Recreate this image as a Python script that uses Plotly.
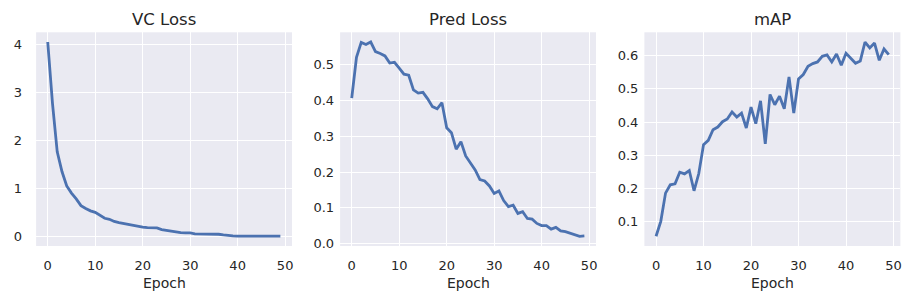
import plotly.graph_objects as go

epochs = list(range(50))

vc_loss = [4.05, 2.77, 1.76, 1.35, 1.05, 0.90, 0.78, 0.64, 0.58, 0.53,
           0.50, 0.44, 0.375, 0.355, 0.31, 0.285, 0.265, 0.235, 0.215, 0.20,
           0.19, 0.18, 0.175, 0.175, 0.14, 0.12, 0.10, 0.085, 0.075, 0.073,
           0.07, 0.05, 0.05, 0.052, 0.055, 0.042, 0.042, 0.028, 0.014, 0.007,
           0.003, 0.005, 0.005, 0.007, 0.005, 0.003, 0.0, 0.002, 0.003, 0.005]

pred_loss = [0.407, 0.521, 0.563, 0.557, 0.564, 0.537, 0.532, 0.525, 0.505, 0.507,
             0.491, 0.474, 0.471, 0.430, 0.421, 0.423, 0.405, 0.383, 0.377, 0.394,
             0.324, 0.310, 0.264, 0.285, 0.245, 0.225, 0.206, 0.179, 0.175, 0.161,
             0.140, 0.147, 0.120, 0.103, 0.107, 0.084, 0.089, 0.070, 0.068, 0.056,
             0.050, 0.050, 0.040, 0.045, 0.035, 0.033, 0.028, 0.024, 0.020, 0.021]

map_vals = [0.056, 0.101, 0.186, 0.211, 0.214, 0.249, 0.244, 0.254, 0.193, 0.245,
            0.332, 0.345, 0.377, 0.385, 0.401, 0.409, 0.430, 0.415, 0.427, 0.382,
            0.445, 0.395, 0.464, 0.334, 0.483, 0.452, 0.478, 0.440, 0.536, 0.427,
            0.530, 0.543, 0.568, 0.576, 0.581, 0.598, 0.602, 0.581, 0.605, 0.571,
            0.607, 0.593, 0.577, 0.584, 0.641, 0.623, 0.638, 0.586, 0.620, 0.603]

titles = ["VC Loss", "Pred Loss", "mAP"]
xlabel = "Epoch"
x_ticks = [0, 10, 20, 30, 40, 50]
y_ticks = [[0, 1, 2, 3, 4],
           [0.0, 0.1, 0.2, 0.3, 0.4, 0.5],
           [0.1, 0.2, 0.3, 0.4, 0.5, 0.6]]
y_fmt = ["d", ".1f", ".1f"]
series = [vc_loss, pred_loss, map_vals]

W, H = 914, 305
LINE = "#4C72B0"
BG = "#EAEAF2"
TXT = "#262626"
FONT = "DejaVu Sans"

x_dom_px = [(36.1, 292.0), (340.1, 596.0), (644.4, 900.4)]
y_dom = [(H - 246.0) / H, (H - 32.3) / H]
standoffs = [13, 5, 5]

fig = go.Figure()

def margin_range(lo, hi, m=0.05):
    span = hi - lo
    return [lo - m * span, hi + m * span]

for i, vals in enumerate(series):
    n = "" if i == 0 else str(i + 1)
    fig.add_trace(go.Scatter(x=epochs, y=vals, mode="lines",
                             line=dict(color=LINE, width=2.8),
                             xaxis="x" + n, yaxis="y" + n, showlegend=False,
                             hoverinfo="skip"))
    x0, x1 = x_dom_px[i]
    axis_common = dict(showgrid=True, gridcolor="white", gridwidth=1.1,
                       zeroline=False, showline=False, ticks="", automargin=False,
                       tickfont=dict(family=FONT, size=13, color=TXT))
    fig.layout["xaxis" + n] = dict(domain=[x0 / W, x1 / W],
                                   range=margin_range(min(epochs), max(epochs)),
                                   tickvals=x_ticks, anchor="y" + n,
                                   ticklabelstandoff=10, **axis_common)
    fig.layout["yaxis" + n] = dict(domain=list(y_dom),
                                   range=margin_range(min(vals), max(vals)),
                                   tickvals=y_ticks[i], tickformat=y_fmt[i],
                                   anchor="x" + n,
                                   ticklabelstandoff=standoffs[i], **axis_common)
    cx = (x0 + x1) / 2 / W
    fig.add_annotation(text=titles[i], x=cx, y=(H - 20) / H, xref="paper", yref="paper",
                       xanchor="center", yanchor="middle", showarrow=False,
                       font=dict(family=FONT, size=16.5, color=TXT))
    fig.add_annotation(text=xlabel, x=cx, y=(H - 283) / H, xref="paper", yref="paper",
                       xanchor="center", yanchor="middle", showarrow=False,
                       font=dict(family=FONT, size=14, color=TXT))

fig.update_layout(width=W, height=H, margin=dict(l=0, r=0, t=0, b=0, autoexpand=False),
                  paper_bgcolor="white", plot_bgcolor=BG,
                  font=dict(family=FONT, color=TXT))

fig.write_html("out.html", config={"displayModeBar": False},
               post_script="document.body.style.margin='0';document.body.style.overflow='hidden';")
